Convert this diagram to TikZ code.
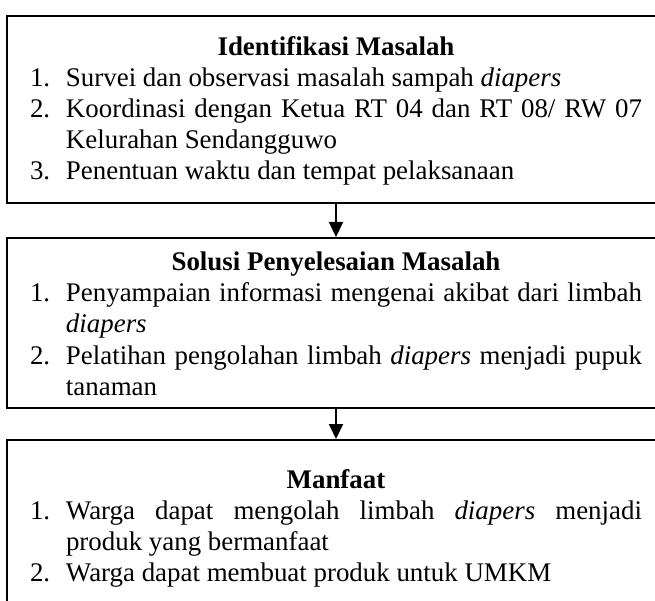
\documentclass[tikz,border=0pt]{standalone}
\usepackage{fontspec}
\setmainfont{Liberation Serif}
\usepackage{tikz}
\usetikzlibrary{positioning, arrows.meta}

\setlength{\parindent}{0pt}
\newcommand{\boxtitle}[2]{\rule{0pt}{#1}\makebox[612pt]{\bfseries #2}}
\newcommand{\numitem}[2]{\makebox[36pt][l]{#1}#2}
\newcommand{\itemcont}[1]{\hspace*{36pt}#1}
\newcommand{\fullline}[1]{{\spaceskip=0pt\xspaceskip=0pt\makebox[576pt][s]{#1}}}
\newcommand{\lastdepth}[1]{\rule[-#1]{0pt}{#1}}

\tikzset{
  stage/.style={draw, line width=2pt, rectangle, anchor=north, align=justify,
    text width=612pt, inner xsep=23pt, inner ysep=10pt,
    font=\fontsize{26.9}{31}\selectfont},
  flow/.style={line width=2pt, -{Triangle[length=15pt,width=14pt]}}
}

\begin{document}
\begin{tikzpicture}[x=1pt, y=-1pt]
  \useasboundingbox (0,0) rectangle (655,601);
  \clip (0,0) rectangle (655,601);

  \node[stage] (ident) at (336, 15) {%
    \boxtitle{30pt}{Identifikasi Masalah}\\
    \numitem{1.}{Survei dan observasi masalah sampah \textit{diapers}}\\
    \numitem{2.}{\fullline{Koordinasi dengan Ketua RT 04 dan RT 08/ RW 07}}\\
    \itemcont{Kelurahan Sendangguwo}\\
    \numitem{3.}{Penentuan waktu dan tempat pelaksanaan}\lastdepth{13pt}};

  \node[stage] (solusi) at (336, 237) {%
    \boxtitle{23pt}{Solusi Penyelesaian Masalah}\\
    \numitem{1.}{\fullline{Penyampaian informasi mengenai akibat dari limbah}}\\
    \itemcont{\textit{diapers}}\\
    \numitem{2.}{\fullline{Pelatihan pengolahan limbah \textit{diapers} menjadi pupuk}}\\
    \itemcont{tanaman}\lastdepth{3pt}};

  \node[stage] (manfaat) at (336, 439) {%
    \boxtitle{38pt}{Manfaat}\\
    \numitem{1.}{\fullline{Warga dapat mengolah limbah \textit{diapers} menjadi}}\\
    \itemcont{produk yang bermanfaat}\\
    \numitem{2.}{Warga dapat membuat produk untuk UMKM}\lastdepth{30pt}};

  \draw[flow] (ident) -- (solusi);
  \draw[flow] (solusi) -- (manfaat);
\end{tikzpicture}
\end{document}
